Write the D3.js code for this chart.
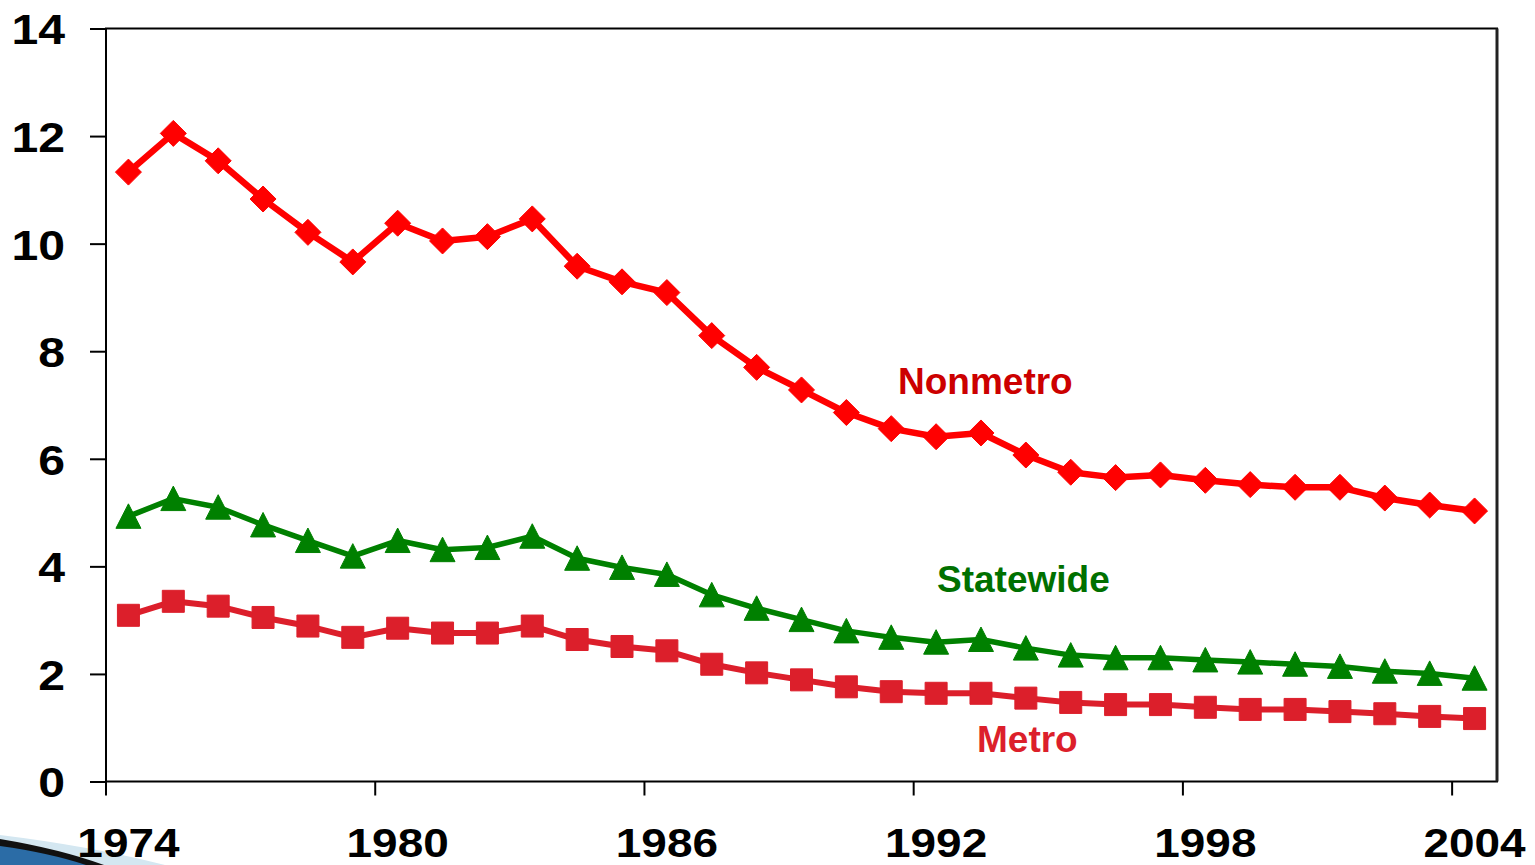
<!DOCTYPE html>
<html>
<head>
<meta charset="utf-8">
<script src="https://cdn.jsdelivr.net/npm/d3@7"></script>
<style>
    html, body { margin: 0; padding: 0; background: #fff; overflow: hidden; }
    svg { display: block; font-family: "Liberation Sans", Arial, sans-serif; }
</style>
</head>
<body>
<svg id="chart" width="1535" height="865"></svg>
<script>
// --- data ---
const years = d3.range(1974, 2005);
const tickYears = [1974, 1980, 1986, 1992, 1998, 2004];
const yTicks = [0, 2, 4, 6, 8, 10, 12, 14];

const nonmetro = [11.33, 12.05, 11.54, 10.83, 10.21, 9.66, 10.38, 10.05, 10.13, 10.46,
    9.58, 9.29, 9.09, 8.29, 7.70, 7.28, 6.86, 6.56, 6.41, 6.48,
    6.07, 5.75, 5.65, 5.70, 5.60, 5.52, 5.47, 5.47, 5.27, 5.14, 5.03];
const statewide = [4.93, 5.26, 5.10, 4.77, 4.48, 4.19, 4.48, 4.31, 4.35, 4.56,
    4.15, 3.98, 3.85, 3.47, 3.22, 3.01, 2.80, 2.68, 2.59, 2.64,
    2.48, 2.35, 2.30, 2.30, 2.26, 2.22, 2.18, 2.14, 2.05, 2.01, 1.92];
const metro = [3.09, 3.35, 3.26, 3.05, 2.89, 2.68, 2.85, 2.76, 2.76, 2.89,
    2.64, 2.51, 2.43, 2.18, 2.02, 1.89, 1.76, 1.67, 1.64, 1.64,
    1.55, 1.47, 1.43, 1.43, 1.38, 1.34, 1.34, 1.30, 1.26, 1.21, 1.17];

const seriesNames = ['Nonmetro', 'Statewide', 'Metro'];

(function() {
    'use strict';

    const svg = d3.select('#chart');
    const X0 = 106, X1 = 1497, Y0 = 781.5, Y1 = 28.5;
    const STRETCH = 1.12;

    const x = d3.scaleBand().domain(years).range([X0, X1]).padding(0);
    const y = d3.scaleLinear().domain([0, 14]).range([Y0, Y1]);
    const half = x.bandwidth() / 2;

    // --- bottom-left slide swoosh ---
    const deco = svg.append('g');
    deco.append('path').attr('d', 'M0,835 Q90,846 165,865 L0,865 Z').attr('fill', '#d4e7f1');
    deco.append('path').attr('d', 'M0,839 Q60,849 104,865 L0,865 Z').attr('fill', '#111');
    deco.append('path').attr('d', 'M0,846 Q50,853 86,865 L0,865 Z').attr('fill', '#2b6ca6');

    // --- frame ---
    svg.append('rect')
        .attr('x', X0).attr('y', Y1).attr('width', X1 - X0).attr('height', Y0 - Y1)
        .attr('fill', 'none').attr('stroke', '#000').attr('stroke-width', 2);
    svg.append('line')
        .attr('x1', X1).attr('x2', X1).attr('y1', Y1).attr('y2', Y0)
        .attr('stroke', '#222').attr('stroke-width', 3);

    const stretchText = function() {
        const w = this.getComputedTextLength();
        d3.select(this).attr('textLength', w * STRETCH).attr('lengthAdjust', 'spacingAndGlyphs');
    };

    // --- y axis ---
    const yAxis = svg.append('g')
        .attr('transform', `translate(${X0},0)`)
        .call(d3.axisLeft(y).tickValues(yTicks).tickSize(16).tickPadding(25).tickFormat(d3.format('d')));
    yAxis.select('.domain').remove();
    yAxis.selectAll('.tick line').attr('stroke', '#000').attr('stroke-width', 2);
    yAxis.selectAll('.tick text')
        .attr('fill', '#000').attr('font-size', 43).attr('font-weight', 'bold')
        .attr('dy', '0.36em')
        .each(stretchText);

    // --- x axis ---
    const xAxis = svg.append('g')
        .attr('transform', `translate(0,${Y0})`)
        .call(d3.axisBottom(x).tickValues(tickYears).tickSize(14).tickPadding(32));
    xAxis.select('.domain').remove();
    xAxis.selectAll('.tick line')
        .attr('x1', -half).attr('x2', -half)
        .attr('stroke', '#000').attr('stroke-width', 2);
    xAxis.selectAll('.tick text')
        .attr('fill', '#000').attr('font-size', 41).attr('font-weight', 'bold')
        .attr('dy', '0.71em')
        .each(stretchText);

    // --- series ---
    const cx = (d, i) => x(years[i]) + half;
    const line = d3.line().x(cx).y(d => y(d));

    const series = [
        { name: seriesNames[0], values: nonmetro, color: '#ff0000', width: 6.5, marker: 'diamond' },
        { name: seriesNames[1], values: statewide, color: '#008000', width: 5.5, marker: 'triangle' },
        { name: seriesNames[2], values: metro, color: '#dc1f2b', width: 6, marker: 'square' }
    ];

    const markerPath = {
        diamond: 'M0,-13 L13,0 L0,13 L-13,0 Z',
        triangle: 'M0,-12.5 L12.5,12 L-12.5,12 Z',
        square: 'M-11,-11 L11,-11 L11,11 L-11,11 Z'
    };

    series.slice().reverse().forEach(s => {
        const g = svg.append('g');
        g.append('path')
            .attr('d', line(s.values))
            .attr('fill', 'none').attr('stroke', s.color)
            .attr('stroke-width', s.width).attr('stroke-linejoin', 'round');
        g.selectAll('path.marker')
            .data(s.values)
            .enter()
            .append('path')
            .attr('class', 'marker')
            .attr('d', markerPath[s.marker])
            .attr('transform', (d, i) => `translate(${cx(d, i)},${y(d)})`)
            .attr('fill', s.color).attr('stroke', s.color)
            .attr('stroke-width', 1).attr('stroke-linejoin', 'round');
    });

    // --- series labels ---
    const labels = [
        { text: seriesNames[0], x: 898, y: 394, color: '#cc0000' },
        { text: seriesNames[1], x: 937, y: 592, color: '#007000' },
        { text: seriesNames[2], x: 977, y: 752, color: '#dc1f2b' }
    ];
    svg.selectAll('text.series-label')
        .data(labels)
        .enter()
        .append('text')
        .attr('class', 'series-label')
        .attr('x', d => d.x).attr('y', d => d.y)
        .attr('fill', d => d.color)
        .attr('font-size', 37).attr('font-weight', 'bold')
        .text(d => d.text);
})();
</script>
</body>
</html>
